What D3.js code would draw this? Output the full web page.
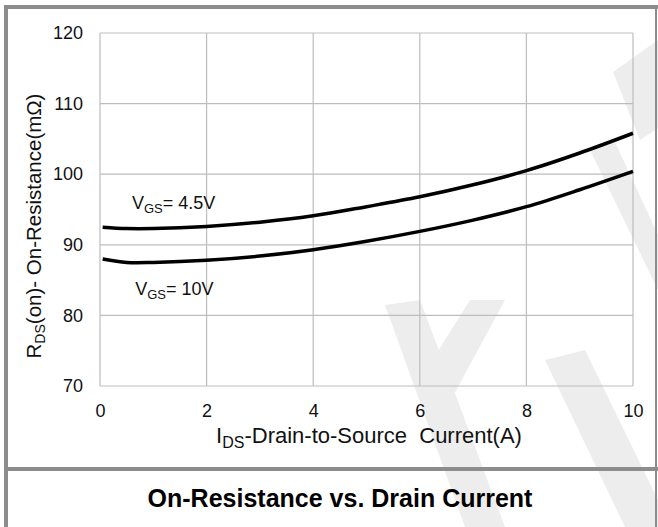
<!DOCTYPE html>
<html>
<head>
<meta charset="utf-8">
<title>On-Resistance vs. Drain Current</title>
<script src="https://d3js.org/d3.v7.min.js"></script>
<style>
  body { margin: 0; background: #fff; }
  svg { display: block; font-family: "Liberation Sans", Arial, sans-serif; }
  .tick text { font-size: 18px; fill: #111; }
</style>
</head>
<body>
<div id="chart"></div>
<script>
// current (A)
var current = [0.05, 0.5, 1, 2, 3, 4, 5, 6, 7, 8, 9, 10];
// RDS(on) in mOhm
var vgs45 = [92.5, 92.3, 92.3, 92.6, 93.2, 94.1, 95.4, 96.8, 98.5, 100.5, 103.0, 105.8];
var vgs10 = [88.0, 87.5, 87.5, 87.8, 88.4, 89.3, 90.5, 91.9, 93.5, 95.4, 97.8, 100.4];

var xTicks = [0, 2, 4, 6, 8, 10];
var yTicks = [70, 80, 90, 100, 110, 120];

var W = 658, H = 527;

var svg = d3.select("#chart").append("svg")
  .attr("width", W)
  .attr("height", H);

var x = d3.scaleLinear().domain([0, 10]).range([100, 633]);
var y = d3.scaleLinear().domain([70, 120]).range([386, 33]);

// watermark (light logo shapes)
var wm = svg.append("g").attr("fill", "#ededed");
var wmShapes = [
  [[658, 40], [613, 72], [640, 140], [658, 128]],
  [[590, 150], [615, 142], [658, 235], [658, 290]],
  [[385, 305], [420, 300], [505, 527], [465, 527]],
  [[470, 300], [505, 300], [440, 420], [420, 380]],
  [[545, 360], [585, 350], [658, 500], [658, 527], [625, 527]]
];
wmShapes.forEach(function(p) {
  wm.append("polygon").attr("points", p.map(function(d) { return d.join(","); }).join(" "));
});

// outer frame
var frame = svg.append("g").attr("stroke", "#8c8c8c").attr("fill", "none");
frame.append("line").attr("x1", 4).attr("x2", 658).attr("y1", 7).attr("y2", 7).attr("stroke-width", 4);
frame.append("line").attr("x1", 6).attr("x2", 6).attr("y1", 5).attr("y2", 527).attr("stroke-width", 4);
frame.append("line").attr("x1", 656).attr("x2", 656).attr("y1", 5).attr("y2", 527).attr("stroke-width", 2);
frame.append("line").attr("x1", 4).attr("x2", 658).attr("y1", 469).attr("y2", 469).attr("stroke-width", 4);

// grid
var grid = svg.append("g").attr("stroke", "#bdbdbd").attr("stroke-width", 1.2);
grid.selectAll(".vx").data(xTicks).enter().append("line")
  .attr("x1", function(d) { return x(d); }).attr("x2", function(d) { return x(d); })
  .attr("y1", y(120)).attr("y2", y(70));
grid.selectAll(".hy").data(yTicks).enter().append("line")
  .attr("x1", x(0)).attr("x2", x(10))
  .attr("y1", function(d) { return y(d); }).attr("y2", function(d) { return y(d); });

// axes (labels only)
var gx = svg.append("g")
  .attr("transform", "translate(0," + y(70) + ")")
  .call(d3.axisBottom(x).tickValues(xTicks).tickSize(0).tickPadding(18));
gx.select(".domain").remove();

var gy = svg.append("g")
  .attr("transform", "translate(" + x(0) + ",0)")
  .call(d3.axisLeft(y).tickValues(yTicks).tickSize(0).tickPadding(17));
gy.select(".domain").remove();
svg.selectAll(".tick text").attr("font-family", null).attr("font-size", null);

// curves
var line = d3.line()
  .x(function(d) { return x(d[0]); })
  .y(function(d) { return y(d[1]); })
  .curve(d3.curveCatmullRom);

[vgs45, vgs10].forEach(function(s) {
  svg.append("path")
    .datum(current.map(function(c, i) { return [c, s[i]]; }))
    .attr("fill", "none")
    .attr("stroke", "#000")
    .attr("stroke-width", 3.5)
    .attr("d", line);
});

// curve labels
function vgsLabel(px, py, val) {
  var t = svg.append("text").attr("x", px).attr("y", py)
    .attr("font-size", 18).attr("fill", "#111");
  t.append("tspan").text("V");
  t.append("tspan").attr("font-size", 13).attr("dy", 4).text("GS");
  t.append("tspan").attr("dy", -4).text("= " + val);
}
vgsLabel(x(0.6), y(95.1), "4.5V");
vgsLabel(x(0.66), y(82.9), "10V");

// x axis title
var xt = svg.append("text")
  .attr("x", 369).attr("y", 443)
  .attr("text-anchor", "middle")
  .attr("font-size", 22).attr("fill", "#111")
  .style("white-space", "pre");
xt.append("tspan").text("I");
xt.append("tspan").attr("font-size", 16).attr("dy", 5).text("DS");
xt.append("tspan").attr("dy", -5).text("-Drain-to-Source  Current(A)");

// y axis title
var yt = svg.append("text")
  .attr("transform", "translate(41,226) rotate(-90)")
  .attr("text-anchor", "middle")
  .attr("font-size", 20.5).attr("fill", "#111");
yt.append("tspan").text("R");
yt.append("tspan").attr("font-size", 14).attr("dy", 4).text("DS");
yt.append("tspan").attr("dy", -4).text("(on)- On-Resistance(m\u03A9)");

// caption
svg.append("text")
  .attr("x", 340).attr("y", 507)
  .attr("text-anchor", "middle")
  .attr("font-size", 25).attr("font-weight", "bold")
  .attr("fill", "#000")
  .text("On-Resistance vs. Drain Current");
</script>
</body>
</html>
